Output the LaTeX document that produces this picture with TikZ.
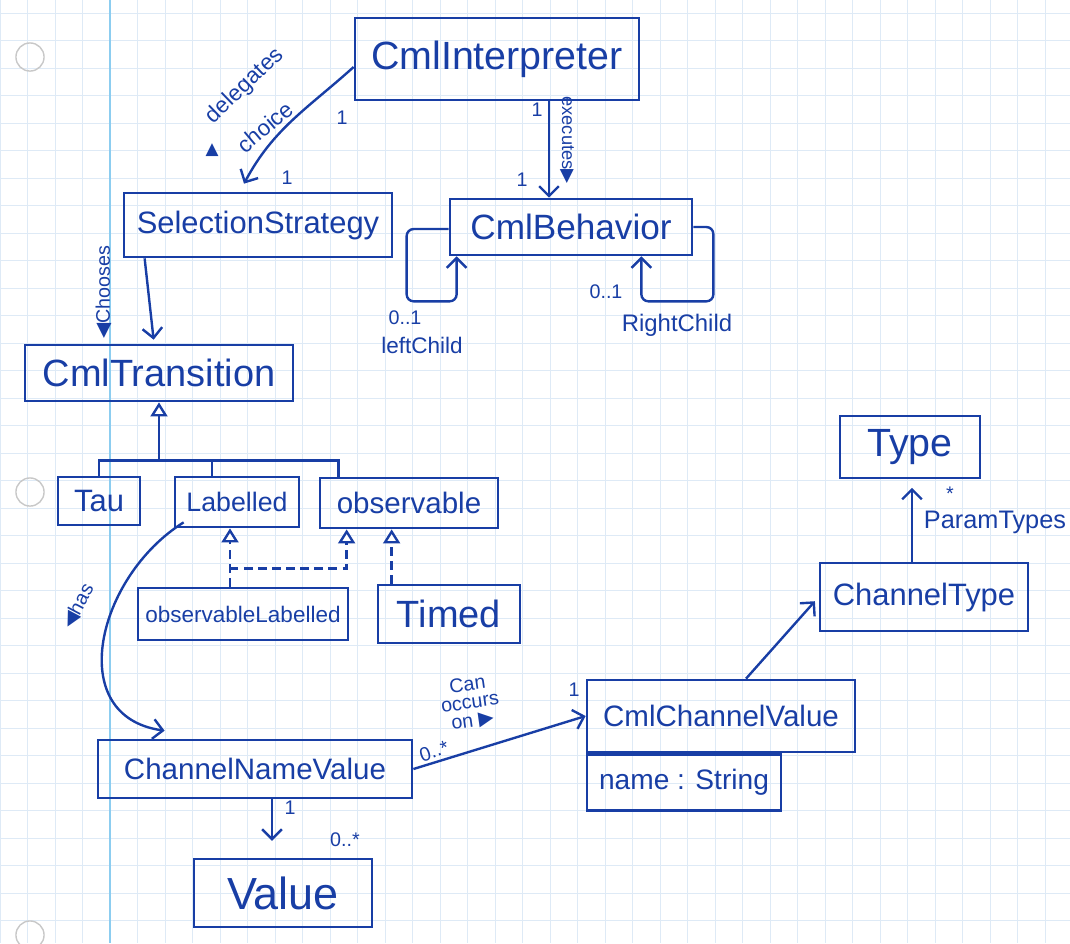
\documentclass[tikz,border=0pt]{standalone}
\usepackage{fontspec}
\setmainfont{Liberation Sans}
\newfontfamily\symfont{DejaVu Sans}
\usetikzlibrary{arrows.meta,calc}
\definecolor{ink}{RGB}{24,62,165}
\definecolor{gridblue}{RGB}{222,234,246}
\definecolor{marginblue}{RGB}{140,205,240}
\definecolor{holegrey}{RGB}{200,200,200}

\begin{document}
\begin{tikzpicture}[x=0.025cm, y=-0.025cm,
    cls/.style={draw=ink, line width=1.9pt, text=ink, inner sep=2pt},
    fsz/.style={font=\fontsize{#1}{#1}\selectfont},
    link/.style={ink, line width=1.7pt},
    assoc/.style={link, -{Straight Barb[length=7pt,width=14pt]}},
    gen/.style={link, -{Triangle[open,length=10pt,width=12pt,fill=white]}},
    real/.style={gen, dash pattern=on 6pt off 4pt},
    lbl/.style={text=ink, inner sep=1pt, fsz=14}]
    \useasboundingbox (0,0) rectangle (1070,943);
    % Paper
    \foreach \gx in {0,27.5,...,1070} \draw[gridblue, line width=0.6pt] (\gx,0) -- (\gx,943);
    \foreach \gy in {13,40.5,...,943} \draw[gridblue, line width=0.6pt] (0,\gy) -- (1070,\gy);
    \draw[marginblue, line width=1pt] (110,0) -- (110,943);
    \foreach \hy in {57,492,935} \draw[holegrey, line width=1pt] (30,\hy) circle (10pt);
    % Classes
    \node[cls, fsz=28, minimum width=7.1cm, minimum height=2.05cm] (interp) at (497,59) {CmlInterpreter};
    \node[cls, fsz=22, minimum width=6.7cm, minimum height=1.6cm] (select) at (258,225) {SelectionStrategy};
    \node[cls, fsz=25, minimum width=6.05cm, minimum height=1.4cm] (behav) at (571,227) {CmlBehavior};
    \node[cls, fsz=27, minimum width=6.7cm, minimum height=1.4cm] (trans) at (159,373) {CmlTransition};
    \node[cls, fsz=22, minimum width=2.05cm, minimum height=1.2cm] (tau) at (99,501) {Tau};
    \node[cls, fsz=19, minimum width=3.1cm, minimum height=1.25cm] (lab) at (237,502) {Labelled};
    \node[cls, fsz=21, minimum width=4.45cm, minimum height=1.25cm] (obs) at (409,503) {observable};
    \node[cls, fsz=16, minimum width=5.25cm, minimum height=1.3cm] (obsl) at (243,614) {observableLabelled};
    \node[cls, fsz=27, minimum width=3.55cm, minimum height=1.45cm] (timed) at (449,614) {Timed};
    \node[cls, fsz=21, minimum width=7.85cm, minimum height=1.45cm] (cnv) at (255,769) {ChannelNameValue};
    \node[cls, fsz=32, minimum width=4.45cm, minimum height=1.7cm] (val) at (283,893) {Value};
    \node[cls, fsz=21, minimum width=6.7cm, minimum height=1.8cm] (ccv) at (721,716) {CmlChannelValue};
    \node[cls, fsz=20, minimum width=4.85cm, minimum height=1.4cm, anchor=north west] (attr) at (ccv.south west) {name : String};
    \node[cls, fsz=22, minimum width=5.2cm, minimum height=1.7cm] (ctype) at (924,597) {ChannelType};
    \node[cls, fsz=28, minimum width=3.5cm, minimum height=1.55cm] (typ) at (910,447) {Type};
    % CmlInterpreter to SelectionStrategy
    \draw[assoc] ($(interp.west)+(0,8)$) to[out=-138, in=62] ($(select.north)+(-14,-8)$);
    \node[lbl] (dc1) at (342,118) {1};
    \node[lbl] (dc2) at (287,178) {1};
    \node[lbl, fsz=16, rotate=44] (dcA) at (245,86) {delegates};
    \node[lbl, fsz=16, rotate=40] (dcB) at (265,127) {choice};
    \node[lbl, fsz=12] (dcC) at (212,150) {{\symfont ▲}};
    % CmlInterpreter to CmlBehavior
    \coordinate (exTop) at ($(interp.south)+(52,0)$);
    \draw[assoc] (exTop) -- (exTop |- behav.north);
    \node[lbl] (ex1) at (537,110) {1};
    \node[lbl] (ex2) at (522,180) {1};
    \node[lbl, fsz=13, rotate=-90] (exl) at (567,140) {executes{\symfont ▶}};
    % CmlBehavior children
    \draw[assoc, rounded corners=5pt] ($(behav.west)+(0,2)$) -- ++(-42,0) |- ($(behav.south west)+(8,45)$) -- ($(behav.south west)+(8,0)$);
    \node[lbl] (lc1) at (405,318) {0..1};
    \node[lbl, fsz=16] (lc2) at (422,345) {leftChild};
    \draw[assoc, rounded corners=5pt] (behav.east) -- ++(20,0) |- ($(behav.south east)+(-52,45)$) -- ($(behav.south east)+(-52,0)$);
    \node[lbl] (rc1) at (606,292) {0..1};
    \node[lbl, fsz=17] (rc2) at (677,325) {RightChild};
    % SelectionStrategy to CmlTransition
    \draw[assoc] ($(select.south west)+(22,0)$) -- ($(trans.north west)+(130,-4)$);
    \node[lbl, rotate=90] (chs) at (104,292) {{\symfont ◀}Chooses};
    % Transition kinds
    \coordinate (genbar) at ($(trans.south)+(0,58)$);
    \draw[gen] (genbar) -- (trans.south);
    \draw[link] (tau.north) |- (genbar) -| ($(obs.north west)+(20,0)$);
    \draw[link] ($(lab.north)+(-25,0)$) |- (genbar);
    \coordinate (olFoot) at ($(obsl.north)+(-13,0)$);
    \coordinate (split) at ($(obsl.north)+(-13,-18)$);
    \coordinate (obsFoot) at ($(obs.south west)+(28,0)$);
    \coordinate (tmFoot) at ($(timed.north west)+(15,0)$);
    \draw[real] (olFoot) -- (olFoot |- lab.south);
    \draw[real] (split) -| (obsFoot);
    \draw[real] (tmFoot) -- (tmFoot |- obs.south);
    % Labelled to ChannelNameValue
    \draw[assoc] ($(lab.south west)+(10,-6)$) to[out=-148, in=172, looseness=1.25] ($(cnv.north west)+(68,-8)$);
    \node[lbl, rotate=62] (has) at (78,606) {{\symfont ◀}has};
    % ChannelNameValue to CmlChannelValue
    \draw[assoc] (cnv.east) -- (ccv.west);
    \node[lbl, rotate=18] (co1) at (434,751) {0..*};
    \node[lbl] (co2) at (574,690) {1};
    \node[lbl, align=center, rotate=8, font=\fontsize{14}{13}\selectfont] (col) at (470,703) {Can\\occurs\\on {\symfont ▶}};
    % Channel types
    \draw[assoc, shorten >=4pt] ($(ccv.north)+(25,0)$) -- (ctype.west);
    \coordinate (ptFoot) at ($(ctype.north)+(-12,0)$);
    \draw[assoc, shorten >=6pt] (ptFoot) -- (ptFoot |- typ.south);
    \node[lbl] (pt1) at (950,494) {*};
    \node[lbl, fsz=18] (pt2) at (995,522) {ParamTypes};
    % ChannelNameValue to Value
    \coordinate (vaTop) at ($(cnv.south)+(17,0)$);
    \draw[assoc, shorten >=12pt] (vaTop) -- (vaTop |- val.north);
    \node[lbl] (va1) at (290,808) {1};
    \node[lbl] (va2) at (345,840) {0..*};
\end{tikzpicture}
\end{document}
